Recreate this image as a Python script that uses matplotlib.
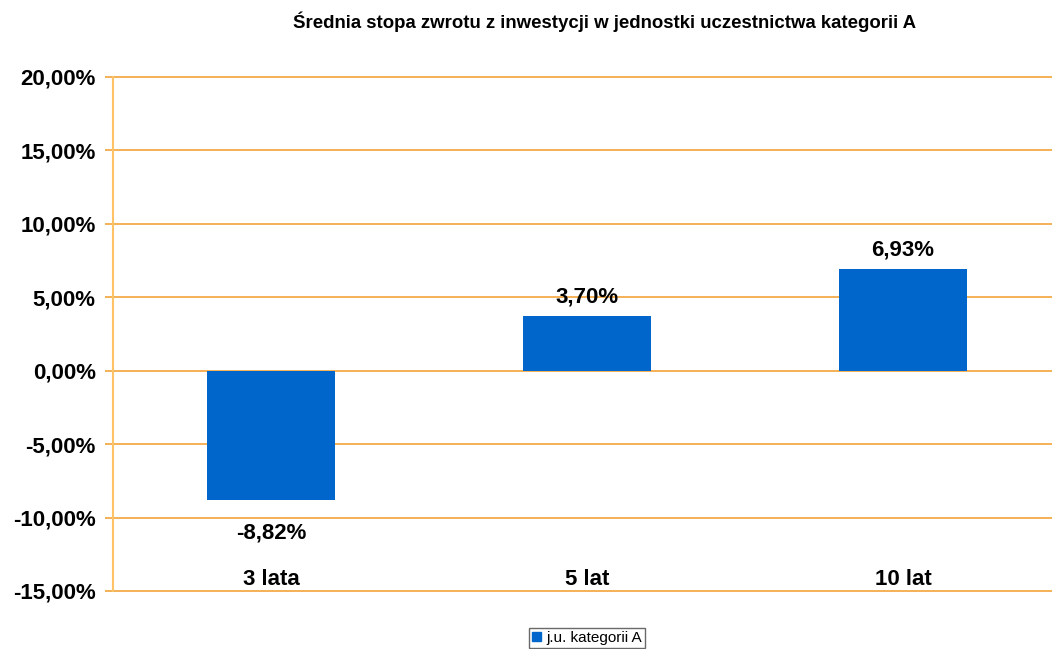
import matplotlib
matplotlib.use("Agg")
import matplotlib.pyplot as plt
from matplotlib.ticker import FuncFormatter
from matplotlib.patches import Patch

plt.rcParams['font.family'] = ['Liberation Sans', 'DejaVu Sans']

categories = ['3 lata', '5 lat', '10 lat']
values = [-8.82, 3.70, 6.93]
series_name = 'j.u. kategorii A'
title = 'Średnia stopa zwrotu z inwestycji w jednostki uczestnictwa kategorii A'

bar_color = '#0066CC'
grid_color = '#F2A33A'
axis_color = '#FFC266'

fig = plt.figure(figsize=(10.52, 6.49), dpi=100)
ax = fig.add_axes([113 / 1052, 1 - 591 / 649, 948 / 1052, (591 - 77) / 649])

x = list(range(len(categories)))
ax.bar(x, values, width=0.405, color=bar_color, zorder=3)

ax.set_xlim(-0.5, len(categories) - 0.5)
ax.set_ylim(-15, 20)
ax.set_yticks(range(-15, 21, 5))
ax.yaxis.set_major_formatter(FuncFormatter(lambda v, p: f'{v:.2f}%'.replace('.', ',')))
ax.set_xticks([])
ax.grid(axis='y', color=grid_color, linewidth=1.2, zorder=1)
for gl in ax.get_ygridlines():
    gl.set_clip_on(False)
ax.tick_params(axis='y', length=6, color=grid_color, width=1.2, labelsize=16, pad=6.5)
for lab in ax.get_yticklabels():
    lab.set_fontweight('bold')

for s in ['top', 'right', 'bottom']:
    ax.spines[s].set_visible(False)
ax.spines['left'].set_color(axis_color)
ax.spines['left'].set_linewidth(1.5)

for xi, v in zip(x, values):
    txt = f'{v:.2f}%'.replace('.', ',')
    if v >= 0:
        ax.text(xi, v + 0.6, txt, ha='center', va='bottom', fontsize=16, fontweight='bold')
    else:
        ax.text(xi, v - 1.5, txt, ha='center', va='top', fontsize=16, fontweight='bold')

for xi, c in zip(x, categories):
    ax.text(xi, -14.2, c, ha='center', va='center', fontsize=16, fontweight='bold')

fig.text(605 / 1052, 1 - 22 / 649, title, ha='center', va='center', fontsize=13.4, fontweight='bold')

leg = fig.legend(handles=[Patch(color=bar_color, label=series_name)], loc='center',
                 bbox_to_anchor=(587 / 1052, 1 - 638 / 649), fontsize=11,
                 frameon=True, fancybox=False, edgecolor='#444444',
                 handlelength=0.6, handleheight=0.6, handletextpad=0.3,
                 borderpad=0.2, borderaxespad=0)
leg.get_frame().set_linewidth(1.0)

fig.savefig('out.png', dpi=100)
